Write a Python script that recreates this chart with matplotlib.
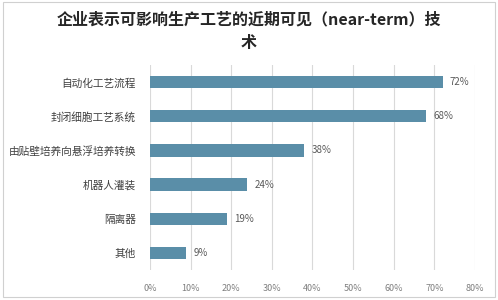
import matplotlib.pyplot as plt
import matplotlib.patches as patches

plt.rcParams['font.family'] = ['Noto Sans CJK SC', 'DejaVu Sans']

# 数据
categories = ['自动化工艺流程', '封闭细胞工艺系统', '由贴壁培养向悬浮培养转换', '机器人灌装', '隔离器', '其他']
values = [72, 68, 38, 24, 19, 9]
xticks = [0, 10, 20, 30, 40, 50, 60, 70, 80]

fig = plt.figure(figsize=(4.98, 3.0), dpi=100)
ax = fig.add_axes([0.301, 0.1, 0.653, 0.683])

y = list(range(len(categories)))[::-1]
ax.barh(y, values, height=0.36, color='#5a8ea8', zorder=2)

for yi, v in zip(y, values):
    ax.text(v + 1.8, yi, f'{v}%', va='center', ha='left', fontsize=7, color='#595959')

ax.set_xlim(0, 80)
ax.set_ylim(-0.5, 5.5)
ax.set_xticks(xticks)
ax.set_xticklabels([f'{t}%' for t in xticks], fontsize=6.5, color='#7f7f7f')
ax.set_yticks(y)
ax.set_yticklabels(categories, fontsize=7.7, color='#404040')
ax.tick_params(axis='both', length=0)
ax.tick_params(axis='x', pad=10)
ax.tick_params(axis='y', pad=10)
ax.grid(axis='x', color='#d9d9d9', linewidth=0.8, zorder=0)
for s in ax.spines.values():
    s.set_visible(False)

fig.text(0.5, 0.935, '企业表示可影响生产工艺的近期可见（near-term）技',
         ha='center', va='center', fontsize=11.5, fontweight='bold', color='#262626')
fig.text(0.5, 0.857, '术', ha='center', va='center', fontsize=11.5,
         fontweight='bold', color='#262626')

# 外框
fig.patches.append(patches.Rectangle((0.006, 0.01), 0.988, 0.985, transform=fig.transFigure,
                                     fill=False, edgecolor='#d0d0d0', linewidth=0.8))

fig.savefig('out.png', dpi=100)
